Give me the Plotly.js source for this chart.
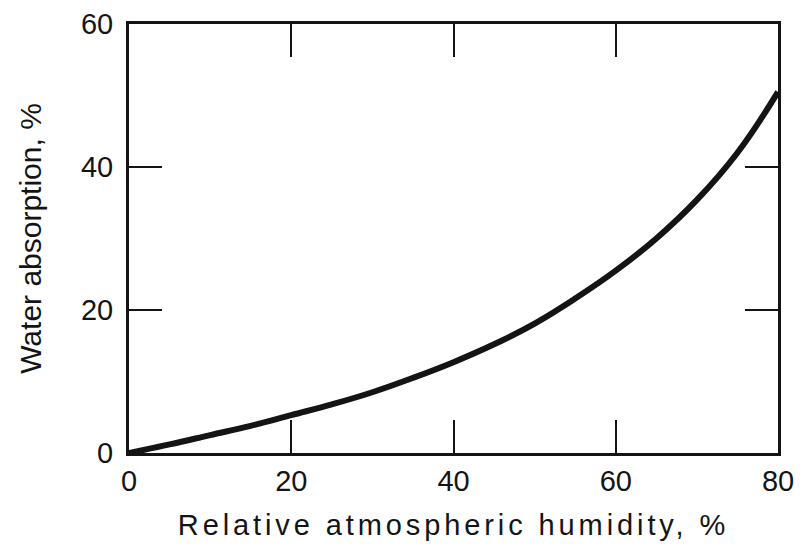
<!DOCTYPE html>
<html>
<head>
<meta charset="utf-8">
<script src="https://cdn.plot.ly/plotly-3.0.1.min.js"></script>
<style>
  html, body { margin: 0; padding: 0; background: #fff; }
  #chart { width: 805px; height: 544px; }
  /* the humidity caption is set with generous tracking */
  .g-xtitle text { letter-spacing: 3.9px; }
</style>
</head>
<body>
<div id="chart"></div>
<script>
// Relative atmospheric humidity (%) and the corresponding water absorption (%)
const humidity   = [0, 5, 10, 15, 20, 25, 30, 35, 40, 45, 50, 55, 60, 65, 70, 75, 80];
const absorption = [0, 1.2, 2.5, 3.8, 5.3, 6.8, 8.5, 10.5, 12.7, 15.2, 18.1, 21.6, 25.5, 30.0, 35.4, 42.0, 50.5];

const xTicks = [0, 20, 40, 60, 80];
const yTicks = [0, 20, 40, 60];

const ink = '#141414';
const font = { family: 'Liberation Sans, Arial, Helvetica, sans-serif', color: ink };

const trace = {
  x: humidity,
  y: absorption,
  type: 'scatter',
  mode: 'lines',
  line: { color: ink, width: 6, shape: 'spline', smoothing: 1.2 },
  hoverinfo: 'x+y'
};

const axisCommon = {
  showgrid: false,
  zeroline: false,
  showline: true,
  linecolor: ink,
  linewidth: 3,
  mirror: 'ticks',
  ticks: 'inside',
  ticklen: 33,
  tickwidth: 2,
  tickcolor: ink,
  tickfont: Object.assign({}, font, { size: 29 })
};

const layout = {
  width: 805,
  height: 544,
  margin: { l: 129, r: 27, t: 24, b: 91 },
  paper_bgcolor: '#fff',
  plot_bgcolor: '#fff',
  showlegend: false,
  xaxis: Object.assign({}, axisCommon, {
    range: [0, 80],
    tickmode: 'array',
    tickvals: xTicks,
    ticktext: xTicks.map(String),
    ticklabelstandoff: 0,
    title: {
      text: 'Relative atmospheric humidity, %',
      font: Object.assign({}, font, { size: 29 }),
      standoff: 19
    }
  }),
  yaxis: Object.assign({}, axisCommon, {
    range: [0, 60],
    tickmode: 'array',
    tickvals: yTicks,
    ticktext: yTicks.map(String),
    ticklabelstandoff: 7,
    title: {
      text: 'Water absorption, %',
      font: Object.assign({}, font, { size: 30 }),
      standoff: 31
    }
  })
};

Plotly.newPlot('chart', [trace], layout, { displayModeBar: false, staticPlot: true });
</script>
</body>
</html>
